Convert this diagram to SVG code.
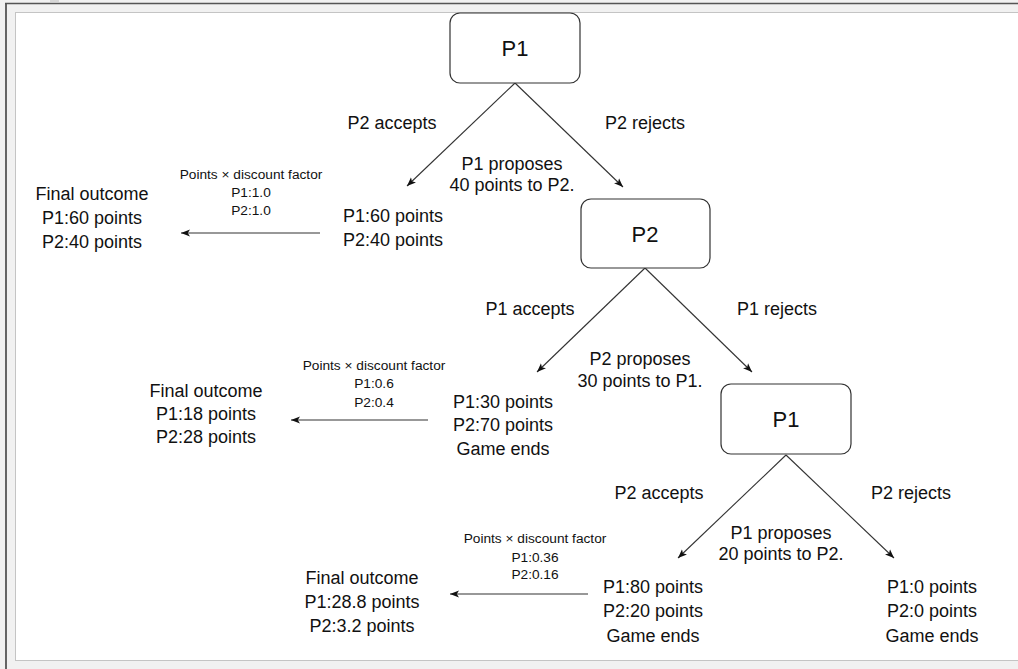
<svg xmlns="http://www.w3.org/2000/svg" width="1018" height="669" viewBox="0 0 1018 669">
<style>
text{font-family:"Liberation Sans",Arial,sans-serif;fill:#111;text-anchor:middle}
.lbl{font-size:18px}
.sm{font-size:13.7px}
.big{font-size:22px}
.node{fill:#fff;stroke:#333;stroke-width:1.2}
.edge{fill:none;stroke:#333;stroke-width:1.1;marker-end:url(#arr)}
</style>
<defs>
<marker id="arr" viewBox="0 0 10 10" markerWidth="9" markerHeight="9" refX="10" refY="5" orient="auto" markerUnits="userSpaceOnUse">
<path d="M0,1 L10,5 L0,9 L2.5,5 z" fill="#111"/>
</marker>
</defs>
<rect x="0" y="0" width="1018" height="669" fill="#f1f1f1"/>
<rect x="50" y="0" width="9" height="2" fill="#d6d6d6"/>
<line x1="5" y1="3.5" x2="1018" y2="3.5" stroke="#555" stroke-width="1.5"/>
<line x1="6" y1="3" x2="6" y2="669" stroke="#555" stroke-width="1.8"/>
<rect x="15.5" y="12.5" width="1010" height="648" fill="#fff" stroke="#c4c4c4" stroke-width="1"/>

<g id="connectors">
<line class="edge" x1="515" y1="83" x2="407" y2="186"/>
<line class="edge" x1="515" y1="83" x2="623" y2="187"/>
<line class="edge" x1="645" y1="268" x2="537" y2="372"/>
<line class="edge" x1="645" y1="268" x2="752" y2="372"/>
<line class="edge" x1="786" y1="455" x2="678" y2="558"/>
<line class="edge" x1="786" y1="455" x2="894" y2="558"/>
<line class="edge" x1="320" y1="233" x2="181" y2="233"/>
<line class="edge" x1="428" y1="420" x2="291" y2="420"/>
<line class="edge" x1="588" y1="594" x2="450" y2="594"/>
</g>

<g id="p1-top">
<rect class="node" x="450" y="13" width="130" height="70" rx="10"/>
<text class="big" x="515" y="56">P1</text>
</g>
<g id="p2">
<rect class="node" x="581" y="199" width="129" height="69" rx="10"/>
<text class="big" x="645" y="242">P2</text>
</g>
<g id="p1-bottom">
<rect class="node" x="721" y="384" width="130" height="70" rx="10"/>
<text class="big" x="786" y="427">P1</text>
</g>

<g id="labels-1">
<text class="lbl" x="392" y="129">P2 accepts</text>
<text class="lbl" x="645" y="129">P2 rejects</text>
<text class="lbl" x="512" y="170">P1 proposes</text>
<text class="lbl" x="512" y="191">40 points to P2.</text>
</g>
<g id="outcome-1">
<text class="lbl" x="393" y="222">P1:60 points</text>
<text class="lbl" x="393" y="246">P2:40 points</text>
</g>
<g id="discount-1">
<text class="sm" x="251" y="179">Points × discount factor</text>
<text class="sm" x="251" y="197">P1:1.0</text>
<text class="sm" x="251" y="215">P2:1.0</text>
</g>
<g id="final-1">
<text class="lbl" x="92" y="200">Final outcome</text>
<text class="lbl" x="92" y="224">P1:60 points</text>
<text class="lbl" x="92" y="248">P2:40 points</text>
</g>

<g id="labels-2">
<text class="lbl" x="530" y="315">P1 accepts</text>
<text class="lbl" x="777" y="315">P1 rejects</text>
<text class="lbl" x="640" y="365">P2 proposes</text>
<text class="lbl" x="640" y="387">30 points to P1.</text>
</g>
<g id="outcome-2">
<text class="lbl" x="503" y="408">P1:30 points</text>
<text class="lbl" x="503" y="431">P2:70 points</text>
<text class="lbl" x="503" y="455">Game ends</text>
</g>
<g id="discount-2">
<text class="sm" x="374" y="370">Points × discount factor</text>
<text class="sm" x="374" y="388">P1:0.6</text>
<text class="sm" x="374" y="407">P2:0.4</text>
</g>
<g id="final-2">
<text class="lbl" x="206" y="397">Final outcome</text>
<text class="lbl" x="206" y="420">P1:18 points</text>
<text class="lbl" x="206" y="443">P2:28 points</text>
</g>

<g id="labels-3">
<text class="lbl" x="659" y="499">P2 accepts</text>
<text class="lbl" x="911" y="499">P2 rejects</text>
<text class="lbl" x="781" y="539">P1 proposes</text>
<text class="lbl" x="781" y="560">20 points to P2.</text>
</g>
<g id="outcome-3a">
<text class="lbl" x="653" y="593">P1:80 points</text>
<text class="lbl" x="653" y="617">P2:20 points</text>
<text class="lbl" x="653" y="642">Game ends</text>
</g>
<g id="outcome-3b">
<text class="lbl" x="932" y="593">P1:0 points</text>
<text class="lbl" x="932" y="617">P2:0 points</text>
<text class="lbl" x="932" y="642">Game ends</text>
</g>
<g id="discount-3">
<text class="sm" x="535" y="543">Points × discount factor</text>
<text class="sm" x="535" y="562">P1:0.36</text>
<text class="sm" x="535" y="579">P2:0.16</text>
</g>
<g id="final-3">
<text class="lbl" x="362" y="584">Final outcome</text>
<text class="lbl" x="362" y="608">P1:28.8 points</text>
<text class="lbl" x="362" y="632">P2:3.2 points</text>
</g>
</svg>
